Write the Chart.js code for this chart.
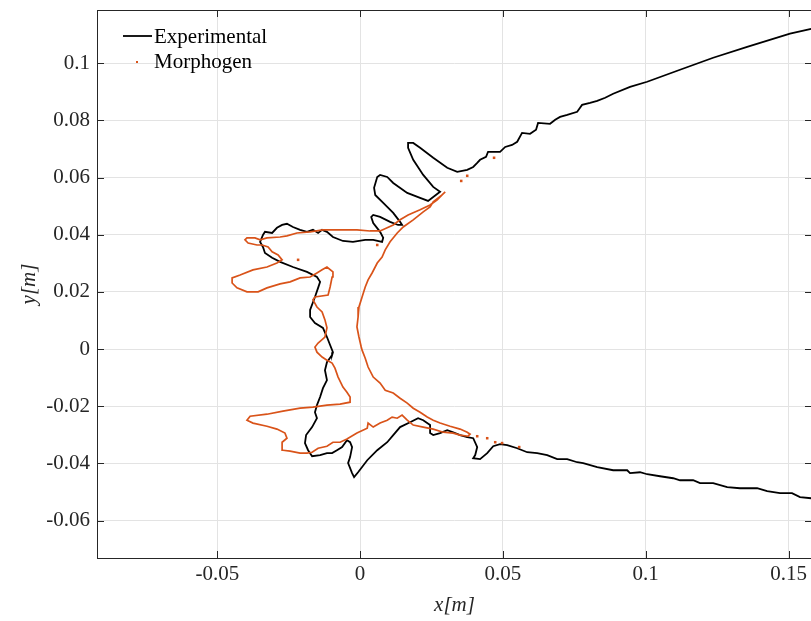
<!DOCTYPE html>
<html>
<head>
<meta charset="utf-8">
<script src="https://cdn.jsdelivr.net/npm/chart.js@4.4.1/dist/chart.umd.min.js"></script>
<style>
  html, body { margin: 0; padding: 0; background: #fff; overflow: hidden; }
  #wrap { width: 811px; height: 621px; overflow: hidden; }
</style>
</head>
<body>
<div id="wrap"><canvas id="shapeChart" width="816" height="621"></canvas></div>
<script>
// tick values shown on the axes
const xTicks = [-0.05, 0, 0.05, 0.1, 0.15];
const yTicks = [-0.06, -0.04, -0.02, 0, 0.02, 0.04, 0.06, 0.08, 0.1];

// experimental outline [x, y] in metres
const experimental = [
  [0.1579,0.1120],[0.1505,0.1103],[0.1355,0.1057],[0.1236,0.1019],[0.1120,0.0977],[0.1005,0.0935],[0.0945,0.0917],[0.0886,0.0893],
  [0.0858,0.0879],[0.0830,0.0868],[0.0805,0.0861],[0.0777,0.0854],[0.0770,0.0844],[0.0760,0.0830],[0.0725,0.0819],[0.0700,0.0812],
  [0.0683,0.0802],[0.0665,0.0788],[0.0623,0.0791],[0.0616,0.0767],[0.0595,0.0753],[0.0567,0.0756],[0.0550,0.0725],[0.0532,0.0714],
  [0.0508,0.0707],[0.0490,0.0690],[0.0448,0.0690],[0.0441,0.0672],[0.0420,0.0662],[0.0410,0.0651],[0.0396,0.0637],[0.0375,0.0627],
  [0.0340,0.0620],[0.0305,0.0634],[0.0256,0.0669],[0.0210,0.0704],[0.0186,0.0721],[0.0168,0.0721],[0.0168,0.0704],[0.0186,0.0662],
  [0.0221,0.0609],[0.0256,0.0567],[0.0280,0.0550],[0.0238,0.0518],[0.0210,0.0529],[0.0165,0.0546],[0.0116,0.0581],[0.0095,0.0602],
  [0.0070,0.0609],[0.0060,0.0602],[0.0049,0.0564],[0.0053,0.0539],[0.0081,0.0511],[0.0116,0.0476],[0.0140,0.0445],[0.0147,0.0434],
  [0.0133,0.0434],[0.0105,0.0445],[0.0070,0.0462],[0.0046,0.0469],[0.0039,0.0462],[0.0046,0.0441],[0.0070,0.0410],[0.0081,0.0389],
  [0.0077,0.0375],[0.0046,0.0382],[0.0018,0.0382],[-0.0025,0.0375],[-0.0060,0.0378],[-0.0095,0.0392],[-0.0116,0.0410],[-0.0133,0.0417],
  [-0.0147,0.0406],[-0.0165,0.0417],[-0.0186,0.0410],[-0.0210,0.0417],[-0.0235,0.0427],[-0.0256,0.0438],[-0.0273,0.0434],[-0.0291,0.0424],
  [-0.0308,0.0406],[-0.0333,0.0410],[-0.0340,0.0399],[-0.0350,0.0375],[-0.0340,0.0357],[-0.0333,0.0336],[-0.0308,0.0319],[-0.0280,0.0305],
  [-0.0235,0.0287],[-0.0186,0.0270],[-0.0151,0.0252],[-0.0140,0.0235],[-0.0147,0.0214],[-0.0158,0.0182],[-0.0175,0.0137],[-0.0175,0.0112],
  [-0.0158,0.0091],[-0.0130,0.0074],[-0.0116,0.0042],[-0.0105,0.0014],[-0.0095,-0.0011],[-0.0098,-0.0021],[-0.0116,-0.0046],[-0.0123,-0.0074],
  [-0.0116,-0.0109],[-0.0130,-0.0137],[-0.0140,-0.0168],[-0.0151,-0.0196],[-0.0158,-0.0221],[-0.0151,-0.0242],[-0.0168,-0.0273],[-0.0189,-0.0301],
  [-0.0193,-0.0329],[-0.0182,-0.0354],[-0.0168,-0.0375],[-0.0140,-0.0371],[-0.0116,-0.0364],[-0.0098,-0.0364],[-0.0081,-0.0354],[-0.0063,-0.0343],
  [-0.0046,-0.0319],[-0.0035,-0.0326],[-0.0028,-0.0343],[-0.0035,-0.0378],[-0.0042,-0.0399],[-0.0028,-0.0434],[-0.0021,-0.0448],[-0.0007,-0.0431],
  [0.0025,-0.0389],[0.0060,-0.0354],[0.0095,-0.0326],[0.0116,-0.0301],[0.0140,-0.0273],[0.0175,-0.0256],[0.0203,-0.0242],[0.0221,-0.0249],
  [0.0245,-0.0266],[0.0245,-0.0294],[0.0256,-0.0301],[0.0280,-0.0294],[0.0305,-0.0284],[0.0326,-0.0291],[0.0350,-0.0301],[0.0375,-0.0308],
  [0.0396,-0.0312],[0.0410,-0.0343],[0.0403,-0.0371],[0.0396,-0.0382],[0.0420,-0.0385],[0.0445,-0.0364],[0.0466,-0.0340],[0.0490,-0.0333],
  [0.0515,-0.0336],[0.0550,-0.0347],[0.0585,-0.0361],[0.0620,-0.0364],[0.0655,-0.0371],[0.0690,-0.0385],[0.0725,-0.0385],[0.0760,-0.0396],
  [0.0781,-0.0399],[0.0830,-0.0413],[0.0886,-0.0424],[0.0935,-0.0424],[0.0945,-0.0434],[0.0980,-0.0431],[0.1005,-0.0438],[0.1050,-0.0445],
  [0.1096,-0.0452],[0.1120,-0.0459],[0.1166,-0.0459],[0.1190,-0.0469],[0.1236,-0.0469],[0.1285,-0.0483],[0.1330,-0.0487],[0.1390,-0.0487],
  [0.1425,-0.0497],[0.1470,-0.0504],[0.1512,-0.0504],[0.1540,-0.0518],[0.1579,-0.0522]
];

// morphogen contour [x, y]
const morphogen = [
  [0.0298,0.0550],[0.0287,0.0539],[0.0256,0.0515],[0.0245,0.0497],[0.0221,0.0480],[0.0186,0.0452],[0.0151,0.0427],[0.0130,0.0406],
  [0.0105,0.0375],[0.0088,0.0347],[0.0077,0.0322],[0.0060,0.0301],[0.0042,0.0266],[0.0028,0.0242],[0.0018,0.0217],[0.0007,0.0182],
  [-0.0004,0.0147],[-0.0007,0.0112],[-0.0011,0.0077],[-0.0004,0.0042],[0.0004,0.0007],[0.0007,-0.0004],[0.0018,-0.0032],[0.0028,-0.0063],
  [0.0046,-0.0098],[0.0070,-0.0119],[0.0088,-0.0144],[0.0116,-0.0154],[0.0140,-0.0172],[0.0165,-0.0189],[0.0186,-0.0207],[0.0210,-0.0221],
  [0.0235,-0.0238],[0.0256,-0.0249],[0.0280,-0.0259],[0.0315,-0.0270],[0.0350,-0.0280],[0.0375,-0.0291],[0.0385,-0.0298],[0.0378,-0.0305],
  [0.0350,-0.0301],[0.0326,-0.0294],[0.0291,-0.0291],[0.0256,-0.0280],[0.0221,-0.0273],[0.0186,-0.0266],[0.0165,-0.0249],[0.0147,-0.0231],
  [0.0130,-0.0242],[0.0112,-0.0238],[0.0095,-0.0249],[0.0070,-0.0259],[0.0046,-0.0273],[0.0028,-0.0259],[0.0025,-0.0277],[-0.0011,-0.0294],
  [-0.0046,-0.0315],[-0.0070,-0.0326],[-0.0095,-0.0326],[-0.0116,-0.0340],[-0.0147,-0.0347],[-0.0168,-0.0361],[-0.0186,-0.0364],[-0.0210,-0.0364],
  [-0.0245,-0.0357],[-0.0270,-0.0354],[-0.0273,-0.0326],[-0.0256,-0.0312],[-0.0263,-0.0294],[-0.0291,-0.0280],[-0.0326,-0.0270],[-0.0375,-0.0259],
  [-0.0396,-0.0249],[-0.0385,-0.0235],[-0.0326,-0.0228],[-0.0270,-0.0217],[-0.0210,-0.0207],[-0.0165,-0.0203],[-0.0116,-0.0196],[-0.0070,-0.0193],
  [-0.0035,-0.0186],[-0.0035,-0.0168],[-0.0046,-0.0151],[-0.0060,-0.0133],[-0.0077,-0.0098],[-0.0088,-0.0067],[-0.0098,-0.0049],[-0.0116,-0.0039],
  [-0.0133,-0.0028],[-0.0151,-0.0011],[-0.0158,0.0007],[-0.0147,0.0021],[-0.0123,0.0042],[-0.0116,0.0074],[-0.0123,0.0102],[-0.0133,0.0130],
  [-0.0151,0.0147],[-0.0165,0.0172],[-0.0158,0.0182],[-0.0112,0.0189],[-0.0105,0.0217],[-0.0098,0.0252],[-0.0095,0.0270],[-0.0116,0.0287],
  [-0.0133,0.0277],[-0.0151,0.0266],[-0.0175,0.0252],[-0.0210,0.0249],[-0.0245,0.0235],[-0.0280,0.0228],[-0.0326,0.0214],[-0.0357,0.0200],
  [-0.0396,0.0200],[-0.0431,0.0214],[-0.0448,0.0231],[-0.0448,0.0249],[-0.0420,0.0259],[-0.0375,0.0277],[-0.0326,0.0287],[-0.0291,0.0301],
  [-0.0273,0.0312],[-0.0287,0.0329],[-0.0308,0.0340],[-0.0322,0.0357],[-0.0343,0.0364],[-0.0361,0.0364],[-0.0392,0.0371],[-0.0403,0.0382],
  [-0.0396,0.0389],[-0.0368,0.0389],[-0.0350,0.0382],[-0.0326,0.0389],[-0.0280,0.0392],[-0.0256,0.0396],[-0.0221,0.0406],[-0.0175,0.0410],
  [-0.0130,0.0417],[-0.0070,0.0417],[-0.0011,0.0417],[0.0035,0.0413],[0.0070,0.0413],[0.0116,0.0434],[0.0140,0.0452],[0.0168,0.0469],
  [0.0210,0.0487],[0.0245,0.0504],[0.0270,0.0522],[0.0287,0.0539],[0.0298,0.0550]
];

// stray morphogen points
const morphDots = [
  [-0.0217,0.0312],[0.0060,0.0364],[0.0354,0.0588],[0.0375,0.0606],[0.0469,0.0669],
  [0.0410,-0.0305],[0.0445,-0.0312],[0.0473,-0.0326],[0.0497,-0.0329],[0.0557,-0.0343]
];

const toXY = pts => pts.map(([x, y]) => ({ x: x, y: y }));

const FONT = '"Liberation Serif", "DejaVu Serif", serif';
const AXIS_COLOR = '#262626';
const ORANGE = '#D95319';

// MATLAB style box, inward ticks and legend
const boxPlugin = {
    id: 'matlabBox',
    afterDraw(chart) {
        const ctx = chart.ctx;
        const a = chart.chartArea;
        const xs = chart.scales.x, ys = chart.scales.y;
        ctx.save();
        ctx.strokeStyle = AXIS_COLOR;
        ctx.lineWidth = 1;
        ctx.strokeRect(a.left + 0.5, a.top + 0.5, a.right - a.left, a.bottom - a.top);
        ctx.beginPath();
        xTicks.forEach(v => {
            const px = Math.round(xs.getPixelForValue(v)) + 0.5;
            ctx.moveTo(px, a.bottom); ctx.lineTo(px, a.bottom - 7);
            ctx.moveTo(px, a.top); ctx.lineTo(px, a.top + 7);
        });
        yTicks.forEach(v => {
            const py = Math.round(ys.getPixelForValue(v)) + 0.5;
            ctx.moveTo(a.left, py); ctx.lineTo(a.left + 7, py);
            ctx.moveTo(a.right, py); ctx.lineTo(a.right - 7, py);
        });
        ctx.stroke();

        // legend
        const lx = a.left + 26, ly = a.top + 26;
        ctx.strokeStyle = '#000';
        ctx.lineWidth = 1.8;
        ctx.beginPath();
        ctx.moveTo(lx, ly); ctx.lineTo(lx + 29, ly);
        ctx.stroke();
        ctx.fillStyle = ORANGE;
        ctx.fillRect(lx + 13, ly + 25, 2, 2);
        ctx.fillStyle = '#000';
        ctx.font = '21px ' + FONT;
        ctx.textBaseline = 'middle';
        ctx.fillText(chart.data.datasets[0].label, lx + 31, ly + 1);
        ctx.fillText(chart.data.datasets[1].label, lx + 31, ly + 26);
        ctx.restore();
    }
};

const ctx = document.getElementById('shapeChart').getContext('2d');
const shapeChart = new Chart(ctx, {
    type: 'scatter',
    data: {
        datasets: [{
            label: 'Experimental',
            data: toXY(experimental),
            showLine: true,
            borderColor: '#000',
            borderWidth: 1.8,
            pointRadius: 0,
            tension: 0,
            order: 3
        }, {
            label: 'Morphogen',
            data: toXY(morphogen),
            showLine: true,
            borderColor: ORANGE,
            borderWidth: 1.7,
            pointRadius: 0,
            tension: 0,
            order: 2
        }, {
            label: 'Morphogen dots',
            data: toXY(morphDots),
            showLine: false,
            pointStyle: 'rect',
            pointRadius: 1.8,
            backgroundColor: ORANGE,
            borderColor: ORANGE,
            borderWidth: 0,
            order: 1
        }]
    },
    options: {
        responsive: false,
        animation: false,
        devicePixelRatio: 1,
        layout: { padding: { left: 0, top: 10, right: 1, bottom: 0 } },
        plugins: {
            legend: { display: false },
            tooltip: { enabled: false }
        },
        scales: {
            x: {
                type: 'linear',
                min: -0.0921,
                max: 0.1582,
                afterBuildTicks: s => { s.ticks = xTicks.map(v => ({ value: v })); },
                afterFit: s => { s.height = 63; s.paddingLeft = 0; s.paddingRight = 0; },
                ticks: {
                    callback: v => String(v),
                    color: AXIS_COLOR,
                    font: { family: FONT, size: 21 },
                    padding: 4,
                    maxRotation: 0,
                    autoSkip: false
                },
                grid: { color: '#e3e3e3', drawTicks: false },
                border: { display: false },
                title: {
                    display: true,
                    text: 'x[m]',
                    color: AXIS_COLOR,
                    font: { family: FONT, size: 21, style: 'italic' },
                    padding: { top: 0, bottom: 3 }
                }
            },
            y: {
                type: 'linear',
                min: -0.0731,
                max: 0.1186,
                afterBuildTicks: s => { s.ticks = yTicks.map(v => ({ value: v })); },
                afterFit: s => { s.width = 97; s.paddingTop = 0; s.paddingBottom = 0; },
                ticks: {
                    callback: v => String(v),
                    color: AXIS_COLOR,
                    font: { family: FONT, size: 21 },
                    padding: 7,
                    autoSkip: false
                },
                grid: { color: '#e3e3e3', drawTicks: false },
                border: { display: false },
                title: {
                    display: true,
                    text: 'y[m]',
                    color: AXIS_COLOR,
                    font: { family: FONT, size: 21, style: 'italic' },
                    padding: { top: 17, bottom: 0 }
                }
            }
        }
    },
    plugins: [boxPlugin]
});
</script>
</body>
</html>
